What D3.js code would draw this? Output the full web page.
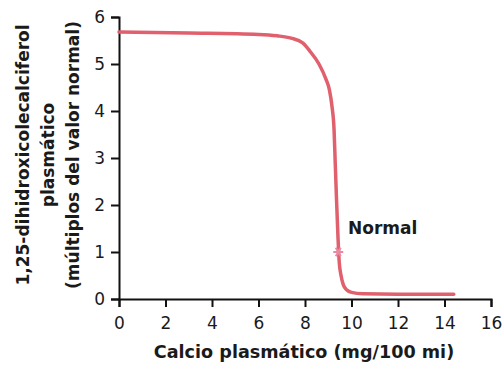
<!DOCTYPE html>
<html><head><meta charset="utf-8">
<script src="https://cdn.jsdelivr.net/npm/d3@7"></script>
<style>body{margin:0;background:#fff;} text{font-family:"DejaVu Sans",sans-serif;fill:#1a1a1a;}</style>
</head><body>
<svg id="c" width="503" height="367"></svg>
<script>
const curveX = [0, 3, 6, 6.8, 7.4, 7.9, 8.2, 8.6, 8.9, 9.05, 9.16, 9.25, 9.3, 9.35, 9.42, 9.47, 9.55, 9.65, 9.8, 10, 10.5, 12, 14.4];
const curveY = [5.68, 5.66, 5.63, 5.6, 5.55, 5.45, 5.28, 5.0, 4.68, 4.45, 4.1, 3.6, 2.9, 2.2, 1.3, 0.8, 0.5, 0.3, 0.19, 0.14, 0.11, 0.1, 0.1];
const normalPoint = {x: 9.43, y: 1.0, label: "Normal"};
const xTicks = [0, 2, 4, 6, 8, 10, 12, 14, 16];
const yTicks = [0, 1, 2, 3, 4, 5, 6];
const xTitle = "Calcio plasmático (mg/100 mi)";
const yTitle = ["1,25-dihidroxicolecalciferol", "plasmático", "(múltiplos del valor normal)"];

const svg = d3.select("#c");
const L = 119, R = 491, T = 17, B = 299;
const x = d3.scaleLinear().domain([0, 16]).range([L, R]);
const y = d3.scaleLinear().domain([0, 6]).range([B, T]);

const xa = svg.append("g").attr("transform", `translate(0,${B})`)
  .call(d3.axisBottom(x).tickValues(xTicks).tickFormat(d3.format("d")).tickSize(8).tickPadding(10));
const ya = svg.append("g").attr("transform", `translate(${L},0)`)
  .call(d3.axisLeft(y).tickValues(yTicks).tickFormat(d3.format("d")).tickSize(8).tickPadding(6));
[xa, ya].forEach(g => {
  g.selectAll("path,line").attr("stroke", "#111").attr("stroke-width", 2);
  g.selectAll("text").style("font-size", "17px").style("font-family", "'DejaVu Sans',sans-serif").attr("fill", "#1a1a1a");
});

const line = d3.line().x((d, i) => x(curveX[i])).y((d, i) => y(curveY[i])).curve(d3.curveMonotoneX);
svg.append("path").datum(curveX).attr("d", line)
  .attr("fill", "none").attr("stroke", "#e0606e").attr("stroke-width", 3.5)
  .attr("stroke-linecap", "round").attr("stroke-linejoin", "round");

svg.append("path").attr("d", d3.symbol(d3.symbolAsterisk, 70)())
  .attr("transform", `translate(${x(normalPoint.x)},${y(normalPoint.y)}) rotate(30)`)
  .attr("stroke", "#e98aa5").attr("stroke-width", 2).attr("fill", "none");
svg.append("text").attr("x", 348).attr("y", y(normalPoint.y) - 18)
  .style("font-size", "17px").style("font-weight", "bold").text(normalPoint.label);

svg.append("text").attr("x", 304).attr("y", 358).attr("text-anchor", "middle")
  .style("font-size", "17.6px").style("font-weight", "bold").text(xTitle);

const yt = svg.append("text").attr("transform", `translate(0,155) rotate(-90)`)
  .attr("text-anchor", "middle").style("font-size", "17px").style("font-weight", "bold");
yTitle.forEach((t, i) => yt.append("tspan").attr("x", 0).attr("y", 29 + i * 25).text(t));
</script>
</body></html>
